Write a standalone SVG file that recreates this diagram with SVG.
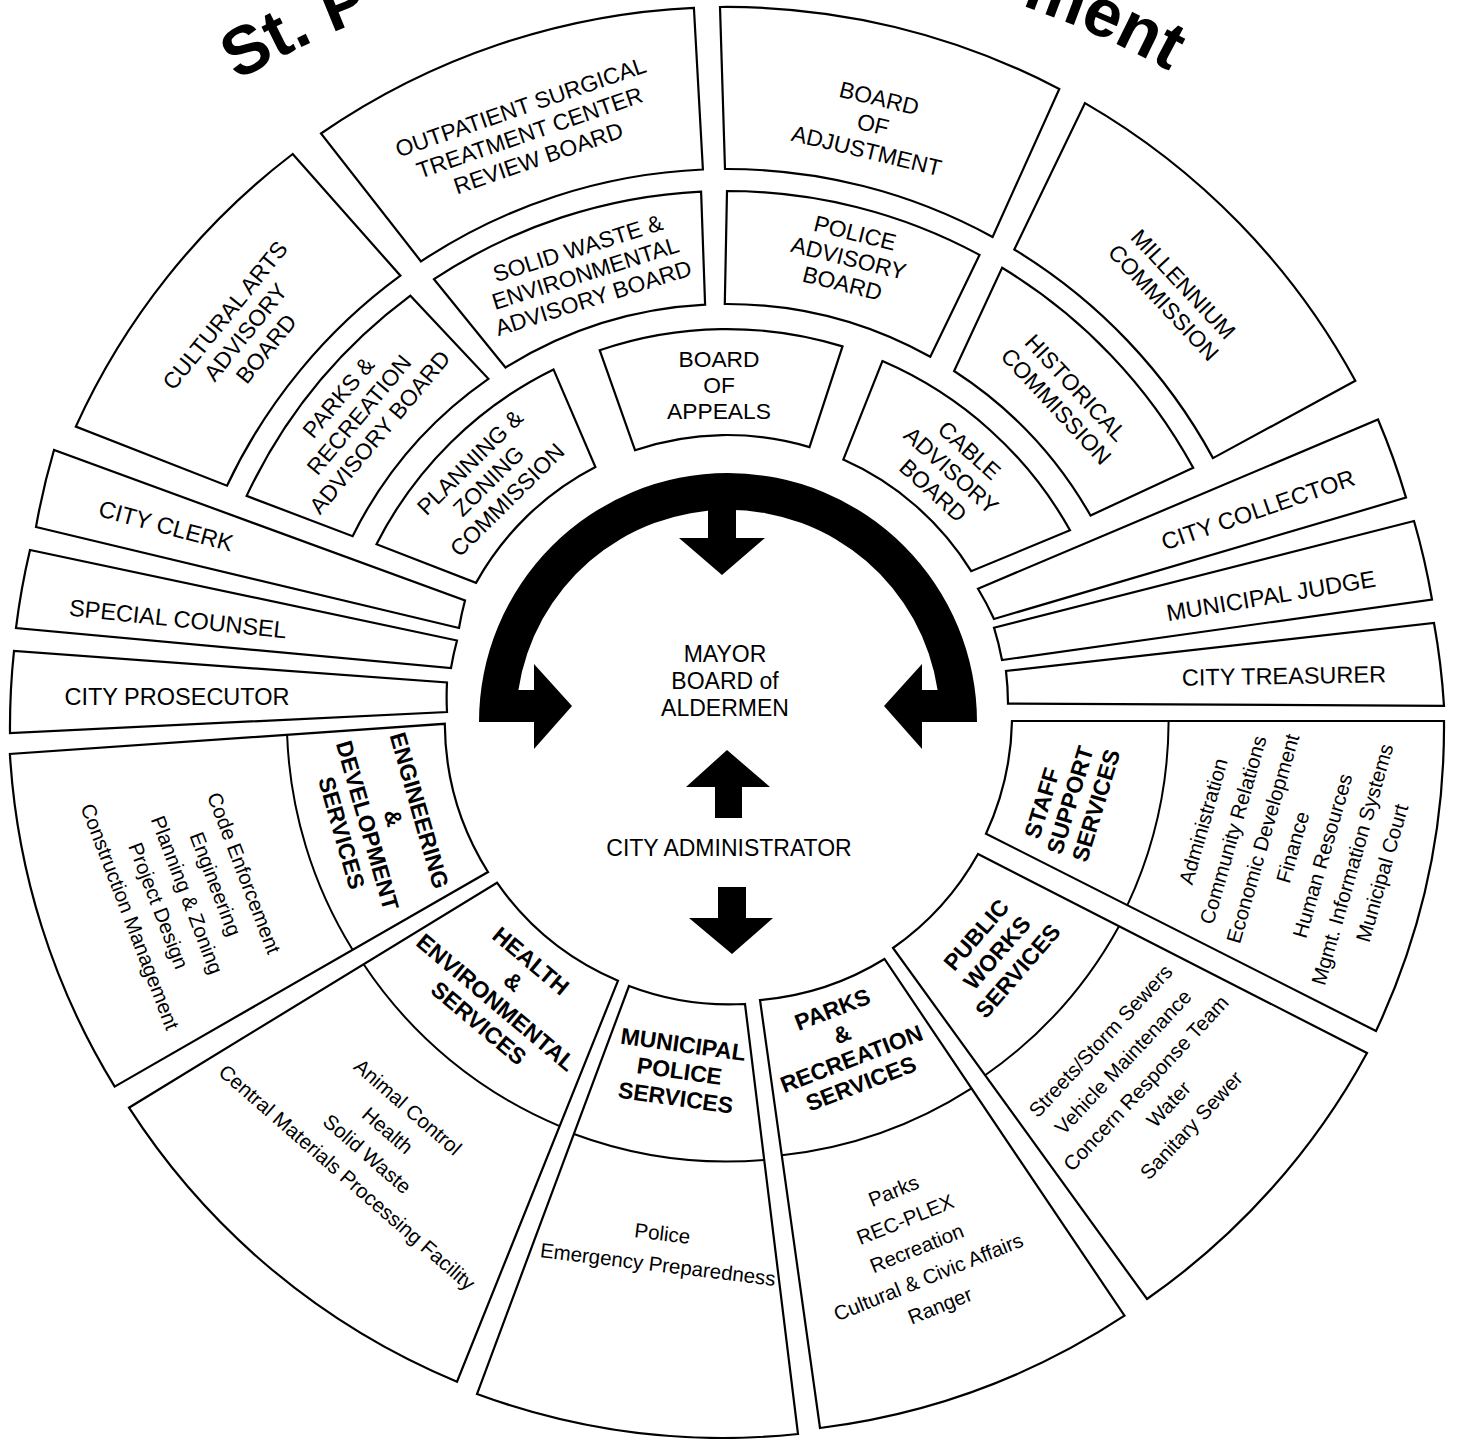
<svg xmlns="http://www.w3.org/2000/svg" xmlns:xlink="http://www.w3.org/1999/xlink" width="1457" height="1439" viewBox="0 0 1457 1439">
<style>
.seg{fill:#fff;stroke:#000;stroke-width:2.2;stroke-linejoin:miter}
.div{fill:none;stroke:#000;stroke-width:2}
.t{font-family:'Liberation Sans',Arial,Helvetica,sans-serif;font-size:22.8px;text-anchor:middle;dominant-baseline:central;fill:#000}
.s{font-size:23.5px}
.c{font-size:23px}
.b{font-weight:bold;font-size:23px}
.l{font-size:20.5px}
.title{font-family:'Liberation Sans',Arial,Helvetica,sans-serif;font-weight:bold;font-size:68px;fill:#000}
.blk{fill:#000;stroke:none}
</style>
<defs>
<path id="titleArc" d="M -240 906 A 952 952 0 0 1 1664 906"/>
</defs>
<rect x="0" y="0" width="1457" height="1439" fill="#fff"/>

<g id="title">
<text class="title"><textPath xlink:href="#titleArc" href="#titleArc" startOffset="998">St. P</textPath></text>
<text class="title"><textPath xlink:href="#titleArc" href="#titleArc" startOffset="1810">ment</textPath></text>
</g>

<!-- Outer top ring -->
<g id="cultural-arts">
<path class="seg" d="M 75.8 426.6 A 715 715 0 0 1 292.7 154 L 400.4 275.7 A 553 553 0 0 0 227 485.7 Z"/>
<text class="t" x="224.9" y="315.3" transform="rotate(-51 224.9 315.3)">CULTURAL ARTS</text>
<text class="t" x="245.5" y="332" transform="rotate(-51 245.5 332)">ADVISORY</text>
<text class="t" x="266.1" y="348.7" transform="rotate(-51 266.1 348.7)">BOARD</text>
</g>
<g id="outpatient">
<path class="seg" d="M 321 133.5 A 715 715 0 0 1 693.9 7.8 L 702.9 169.5 A 553 553 0 0 0 421 261.4 Z"/>
<text class="t" x="520.7" y="107" transform="rotate(-19 520.7 107)">OUTPATIENT SURGICAL</text>
<text class="t" x="529.5" y="132.5" transform="rotate(-19 529.5 132.5)">TREATMENT CENTER</text>
<text class="t" x="538.3" y="158" transform="rotate(-19 538.3 158)">REVIEW BOARD</text>
</g>
<g id="board-of-adjustment">
<path class="seg" d="M 720 7 A 715 715 0 0 1 1059.3 89 L 992.6 237 A 553 553 0 0 0 725 169 Z"/>
<text class="t" x="879.3" y="98.1" transform="rotate(13.5 879.3 98.1)">BOARD</text>
<text class="t" x="873" y="124.3" transform="rotate(13.5 873 124.3)">OF</text>
<text class="t" x="866.7" y="150.5" transform="rotate(13.5 866.7 150.5)">ADJUSTMENT</text>
</g>
<g id="millennium">
<path class="seg" d="M 1085 103.1 A 715 715 0 0 1 1355.3 380.8 L 1213 458.1 A 553 553 0 0 0 1014.3 249.5 Z"/>
<text class="t" x="1183.4" y="284.1" transform="rotate(47 1183.4 284.1)">MILLENNIUM</text>
<text class="t" x="1163.6" y="302.5" transform="rotate(47 1163.6 302.5)">COMMISSION</text>
</g>

<!-- Middle top ring -->
<g id="parks-advisory">
<path class="seg" d="M 246.6 495.9 A 531 531 0 0 1 410.4 295.7 L 488.4 378.8 A 418 418 0 0 0 352.6 536.2 Z"/>
<text class="t" x="338.3" y="397.3" transform="rotate(-50 338.3 397.3)">PARKS &amp;</text>
<text class="t" x="359" y="414.7" transform="rotate(-50 359 414.7)">RECREATION</text>
<text class="t" x="379.7" y="432.1" transform="rotate(-50 379.7 432.1)">ADVISORY BOARD</text>
</g>
<g id="solid-waste">
<path class="seg" d="M 434 279.2 A 531 531 0 0 1 701.1 191.6 L 705.1 304.6 A 418 418 0 0 0 505.5 367.5 Z"/>
<text class="t" x="577.7" y="248.2" transform="rotate(-17.5 577.7 248.2)">SOLID WASTE &amp;</text>
<text class="t" x="585.5" y="273" transform="rotate(-17.5 585.5 273)">ENVIRONMENTAL</text>
<text class="t" x="593.3" y="297.8" transform="rotate(-17.5 593.3 297.8)">ADVISORY BOARD</text>
</g>
<g id="police-advisory">
<path class="seg" d="M 727 191 A 531 531 0 0 1 979.5 254.9 L 930.3 356.8 A 418 418 0 0 0 724.8 304 Z"/>
<text class="t" x="855" y="232.8" transform="rotate(14 855 232.8)">POLICE</text>
<text class="t" x="848.7" y="258" transform="rotate(14 848.7 258)">ADVISORY</text>
<text class="t" x="842.4" y="283.2" transform="rotate(14 842.4 283.2)">BOARD</text>
</g>
<g id="historical">
<path class="seg" d="M 1002.1 267.8 A 531 531 0 0 1 1193.2 467.8 L 1090.5 515.5 A 418 418 0 0 0 954.1 371 Z"/>
<text class="t" x="1075.9" y="387.8" transform="rotate(47 1075.9 387.8)">HISTORICAL</text>
<text class="t" x="1056.2" y="406.2" transform="rotate(47 1056.2 406.2)">COMMISSION</text>
</g>

<!-- Inner top ring -->
<g id="planning-zoning">
<path class="seg" d="M 376.5 544.2 A 393 393 0 0 1 553.5 369.4 L 595.4 467 A 287 287 0 0 0 476 582.9 Z"/>
<text class="t" x="469.9" y="462.2" transform="rotate(-44.7 469.9 462.2)">PLANNING &amp;</text>
<text class="t" x="488.5" y="481" transform="rotate(-44.7 488.5 481)">ZONING</text>
<text class="t" x="507.1" y="499.8" transform="rotate(-44.7 507.1 499.8)">COMMISSION</text>
</g>
<g id="board-of-appeals">
<path class="seg" d="M 599.7 350.2 A 393 393 0 0 1 842.5 346.4 L 809.5 447.1 A 287 287 0 0 0 635 450.2 Z"/>
<text class="t" x="719" y="359">BOARD</text>
<text class="t" x="719" y="385">OF</text>
<text class="t" x="719" y="411">APPEALS</text>
</g>
<g id="cable-advisory">
<path class="seg" d="M 882.4 361.1 A 393 393 0 0 1 1070 530.3 L 971.2 571.2 A 287 287 0 0 0 843.3 459.6 Z"/>
<text class="t" x="969.4" y="450.3" transform="rotate(42 969.4 450.3)">CABLE</text>
<text class="t" x="951.3" y="470.4" transform="rotate(42 951.3 470.4)">ADVISORY</text>
<text class="t" x="933.2" y="490.5" transform="rotate(42 933.2 490.5)">BOARD</text>
</g>

<!-- Side officials -->
<g id="city-clerk">
<path class="seg" d="M 36 527 A 718 718 0 0 1 54 450 L 465 600.5 A 283 283 0 0 0 459 628 Z"/>
<text class="t s" x="166" y="526" transform="rotate(15 166 526)">CITY CLERK</text>
</g>
<g id="special-counsel">
<path class="seg" d="M 16 628 A 717 717 0 0 1 30 550 L 457 640.5 A 283 283 0 0 0 451 668 Z"/>
<text class="t s" x="178" y="619" transform="rotate(6 178 619)">SPECIAL COUNSEL</text>
</g>
<g id="city-prosecutor">
<path class="seg" d="M 10 733 A 717 717 0 0 1 14 651 L 447 682.5 A 283 283 0 0 0 447 712 Z"/>
<text class="t s" x="177" y="697">CITY PROSECUTOR</text>
</g>
<g id="city-collector">
<path class="seg" d="M 1378 419.5 A 717 717 0 0 1 1406 497.6 L 994 619 A 283 283 0 0 0 978 588.7 Z"/>
<text class="t s" x="1258" y="510" transform="rotate(-19 1258 510)">CITY COLLECTOR</text>
</g>
<g id="municipal-judge">
<path class="seg" d="M 1414 521 A 717 717 0 0 1 1432 599.5 L 1002 660 A 283 283 0 0 0 994 627.7 Z"/>
<text class="t s" x="1271" y="596" transform="rotate(-9.5 1271 596)">MUNICIPAL JUDGE</text>
</g>
<g id="city-treasurer">
<path class="seg" d="M 1434 623 A 717 717 0 0 1 1444 705.8 L 1008 703.6 A 283 283 0 0 0 1006 671 Z"/>
<text class="t s" x="1284" y="676" transform="rotate(-1 1284 676)">CITY TREASURER</text>
</g>

<!-- Service departments -->
<g id="staff-support">
<path class="seg" d="M 1444 721 A 716 716 0 0 1 1376 1031 L 986 833.7 A 282 282 0 0 0 1012 721 Z"/>
<path class="div" d="M 1168.6 721 A 439 439 0 0 1 1127.4 905.2"/>
<text class="t b" x="1042" y="803" transform="rotate(-73 1042 803)">STAFF</text>
<text class="t b" x="1070" y="800" transform="rotate(-73 1070 800)">SUPPORT</text>
<text class="t b" x="1096" y="805.5" transform="rotate(-73 1096 805.5)">SERVICES</text>
<text class="t l" x="1202.9" y="821.2" transform="rotate(-74 1202.9 821.2)">Administration</text>
<text class="t l" x="1232.7" y="829.8" transform="rotate(-74 1232.7 829.8)">Community Relations</text>
<text class="t l" x="1262.5" y="838.4" transform="rotate(-74 1262.5 838.4)">Economic Development</text>
<text class="t l" x="1292.3" y="847" transform="rotate(-74 1292.3 847)">Finance</text>
<text class="t l" x="1322.1" y="855.6" transform="rotate(-74 1322.1 855.6)">Human Resources</text>
<text class="t l" x="1351.9" y="864.2" transform="rotate(-74 1351.9 864.2)">Mgmt. Information Systems</text>
<text class="t l" x="1381.7" y="872.8" transform="rotate(-74 1381.7 872.8)">Municipal Court</text>
</g>
<g id="public-works">
<path class="seg" d="M 1367 1053 A 716 716 0 0 1 1147 1299 L 893 948 A 282 282 0 0 0 978 854 Z"/>
<path class="div" d="M 1119 926.2 A 439 439 0 0 1 985.1 1075.3"/>
<text class="t b" x="976.2" y="934.8" transform="rotate(-49 976.2 934.8)">PUBLIC</text>
<text class="t b" x="997" y="952.8" transform="rotate(-49 997 952.8)">WORKS</text>
<text class="t b" x="1017.8" y="970.8" transform="rotate(-49 1017.8 970.8)">SERVICES</text>
<text class="t l" x="1100.2" y="1040.6" transform="rotate(-47 1100.2 1040.6)">Streets/Storm Sewers</text>
<text class="t l" x="1122.9" y="1061.7" transform="rotate(-47 1122.9 1061.7)">Vehicle Maintenance</text>
<text class="t l" x="1145.6" y="1082.8" transform="rotate(-47 1145.6 1082.8)">Concern Response Team</text>
<text class="t l" x="1168.3" y="1103.9" transform="rotate(-47 1168.3 1103.9)">Water</text>
<text class="t l" x="1191" y="1125" transform="rotate(-47 1191 1125)">Sanitary Sewer</text>
</g>
<g id="parks-recreation-services">
<path class="seg" d="M 1124.5 1315.7 A 716 716 0 0 1 820 1428 L 760 1000 A 282 282 0 0 0 884.5 959 Z"/>
<path class="div" d="M 971.5 1088.3 A 439 439 0 0 1 781.8 1155.2"/>
<text class="t b" x="832.5" y="1009.4" transform="rotate(-21 832.5 1009.4)">PARKS</text>
<text class="t b" x="842" y="1034.1" transform="rotate(-21 842 1034.1)">&amp;</text>
<text class="t b" x="851.5" y="1058.8" transform="rotate(-21 851.5 1058.8)">RECREATION</text>
<text class="t b" x="861" y="1083.5" transform="rotate(-21 861 1083.5)">SERVICES</text>
<text class="t l" x="893.4" y="1190.5" transform="rotate(-22 893.4 1190.5)">Parks</text>
<text class="t l" x="905" y="1219.2" transform="rotate(-22 905 1219.2)">REC-PLEX</text>
<text class="t l" x="916.6" y="1247.9" transform="rotate(-22 916.6 1247.9)">Recreation</text>
<text class="t l" x="928.2" y="1276.6" transform="rotate(-22 928.2 1276.6)">Cultural &amp; Civic Affairs</text>
<text class="t l" x="939.8" y="1305.3" transform="rotate(-22 939.8 1305.3)">Ranger</text>
</g>
<g id="municipal-police">
<path class="seg" d="M 798 1434 A 716 716 0 0 1 477 1394 L 629 986 A 282 282 0 0 0 745 1004 Z"/>
<path class="div" d="M 764.2 1159.9 A 439 439 0 0 1 573.9 1134"/>
<text class="t b" x="683.3" y="1044.3" transform="rotate(8 683.3 1044.3)">MUNICIPAL</text>
<text class="t b" x="679.5" y="1071" transform="rotate(8 679.5 1071)">POLICE</text>
<text class="t b" x="675.7" y="1097.7" transform="rotate(8 675.7 1097.7)">SERVICES</text>
<text class="t l" x="662.5" y="1233" transform="rotate(7 662.5 1233)">Police</text>
<text class="t l" x="658" y="1264" transform="rotate(7 658 1264)">Emergency Preparedness</text>
</g>
<g id="health-environmental">
<path class="seg" d="M 457 1381.7 A 716 716 0 0 1 129 1107.7 L 497 882.7 A 282 282 0 0 0 618 980.7 Z"/>
<path class="div" d="M 559.6 1126.1 A 439 439 0 0 1 363.6 964.3"/>
<text class="t b" x="530.9" y="961" transform="rotate(40 530.9 961)">HEALTH</text>
<text class="t b" x="513.5" y="981.7" transform="rotate(40 513.5 981.7)">&amp;</text>
<text class="t b" x="496.1" y="1002.4" transform="rotate(40 496.1 1002.4)">ENVIRONMENTAL</text>
<text class="t b" x="478.7" y="1023.1" transform="rotate(40 478.7 1023.1)">SERVICES</text>
<text class="t l" x="408.1" y="1106.8" transform="rotate(41 408.1 1106.8)">Animal Control</text>
<text class="t l" x="387.8" y="1130.2" transform="rotate(41 387.8 1130.2)">Health</text>
<text class="t l" x="367.5" y="1153.6" transform="rotate(41 367.5 1153.6)">Solid Waste</text>
<text class="t l" x="347.2" y="1177" transform="rotate(41 347.2 1177)">Central Materials Processing Facility</text>
</g>
<g id="engineering-development">
<path class="seg" d="M 114.7 1086.6 A 716 716 0 0 1 9.9 754 L 444.8 723.8 A 282 282 0 0 0 488 872 Z"/>
<path class="div" d="M 352.6 949.8 A 439 439 0 0 1 287.1 734.8"/>
<text class="t b" x="419.4" y="810.5" transform="rotate(74 419.4 810.5)">ENGINEERING</text>
<text class="t b" x="393.5" y="818" transform="rotate(74 393.5 818)">&amp;</text>
<text class="t b" x="367.5" y="825.4" transform="rotate(74 367.5 825.4)">DEVELOPMENT</text>
<text class="t b" x="341.6" y="832.9" transform="rotate(74 341.6 832.9)">SERVICES</text>
<text class="t l" x="244.4" y="872.9" transform="rotate(69 244.4 872.9)">Code Enforcement</text>
<text class="t l" x="215.9" y="883.8" transform="rotate(69 215.9 883.8)">Engineering</text>
<text class="t l" x="187.4" y="894.7" transform="rotate(69 187.4 894.7)">Planning &amp; Zoning</text>
<text class="t l" x="158.9" y="905.6" transform="rotate(69 158.9 905.6)">Project Design</text>
<text class="t l" x="130.4" y="916.5" transform="rotate(69 130.4 916.5)">Construction Management</text>
</g>

<!-- Centre -->
<g id="mayor-board">
<text class="t c" x="725" y="654">MAYOR</text>
<text class="t c" x="725" y="681">BOARD of</text>
<text class="t c" x="725" y="708">ALDERMEN</text>
</g>
<g id="city-administrator">
<text class="t c" x="729" y="848">CITY ADMINISTRATOR</text>
</g>

<g id="connectors">
<path class="blk" d="M 479 722 A 249 249 0 0 1 977 722 L 922 722 L 922 749 L 884 706 L 922 664 L 922 690 L 937.6 690 A 212 212 0 0 0 518.4 690 L 534 690 L 534 664 L 572 706 L 534 749 L 534 722 Z"/>
<path class="blk" d="M 708 505 L 736 505 L 736 538 L 765 538 L 722 575 L 679 538 L 708 538 Z"/>
<path class="blk" d="M 727 750 L 770 787 L 742 787 L 742 818 L 715 818 L 715 787 L 686 787 Z"/>
<path class="blk" d="M 718 887 L 746 887 L 746 918 L 773 918 L 732 954 L 689 918 L 718 918 Z"/>
</g>
</svg>
